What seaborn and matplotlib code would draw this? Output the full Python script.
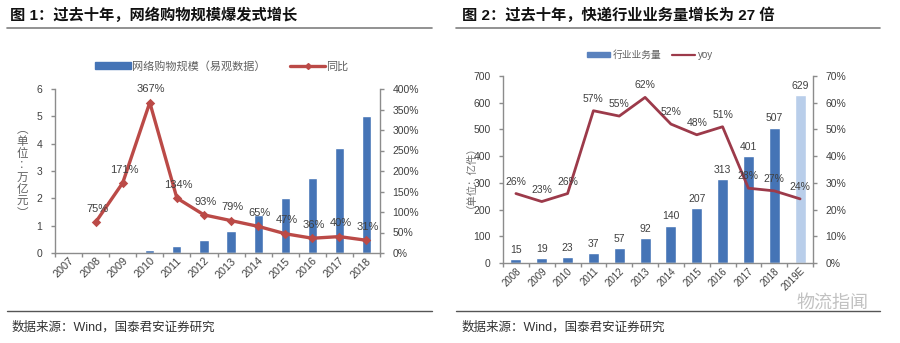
import numpy as np
import pandas as pd
import matplotlib
matplotlib.use("Agg")
import matplotlib.pyplot as plt
import seaborn as sns
from matplotlib.lines import Line2D
from matplotlib.patches import Patch

# ---------------- data ----------------
years1 = ["2007", "2008", "2009", "2010", "2011", "2012", "2013", "2014",
          "2015", "2016", "2017", "2018"]
scale1 = [0.02, 0.03, 0.03, 0.10, 0.26, 0.48, 0.82, 1.39, 2.02, 2.76, 3.85, 5.03]
growth1 = [np.nan, 75, 171, 367, 134, 93, 79, 65, 47, 36, 40, 31]

years2 = ["2008", "2009", "2010", "2011", "2012", "2013", "2014", "2015",
          "2016", "2017", "2018", "2019E"]
volume2 = [15, 19, 23, 37, 57, 92, 140, 207, 313, 401, 507, 629]
yoy2 = [26, 23, 26, 57, 55, 62, 52, 48, 51, 28, 27, 24]

title1 = "图 1：过去十年，网络购物规模爆发式增长"
title2 = "图 2：过去十年，快递行业业务量增长为 27 倍"
source = "数据来源：Wind，国泰君安证券研究"
legend1 = ["网络购物规模（易观数据）", "同比"]
legend2 = ["行业业务量", "yoy"]
ylabel1 = "︵单位︰万亿元︶"
ylabel2 = "（单位：亿件）"

# ---------------- style ----------------
sns.set_theme(style="white")
plt.rcParams["font.family"] = ["Liberation Sans", "Noto Sans CJK SC", "DejaVu Sans"]

BLUE = "#4574B6"
LIGHT = "#B9CEEA"
RED1 = "#BB4A47"
RED2 = "#9C3A4A"
GRAY = "#8C8C8C"
TXT = "#404040"

fig = plt.figure(figsize=(9.0, 3.43), dpi=100)

def fx(px):
    return px / 900.0

def fy(py):
    return 1 - py / 343.0

def style_axes(ax, ax2, n):
    for a in (ax, ax2):
        a.spines["top"].set_visible(False)
        for s in ("left", "right", "bottom"):
            a.spines[s].set_color(GRAY)
            a.spines[s].set_linewidth(1.0)
    ax.spines["right"].set_visible(False)
    ax2.spines["left"].set_visible(False)
    ax2.spines["bottom"].set_visible(False)
    ax.set_xlim(-0.5, n - 0.5)
    ax.set_xticks(np.arange(n))
    ax.set_xticks(np.arange(n + 1) - 0.5, minor=True)
    ax.tick_params(axis="x", which="major", length=0, pad=2)
    ax.tick_params(axis="x", which="minor", length=3, width=1, color=GRAY, direction="out", bottom=True)
    ax.tick_params(axis="y", length=3, width=1, color=GRAY, direction="out", left=True,
                   labelsize=7.5, labelcolor=TXT, pad=6)
    ax2.tick_params(axis="y", length=3, width=1, color=GRAY, direction="out", right=True,
                    labelsize=7.5, labelcolor=TXT, pad=6)
    ax.set_xlabel("")
    ax.set_ylabel("")
    ax2.set_ylabel("")
    ax2.set_xlabel("")

# ---------------- chart 1 ----------------
ax = fig.add_axes([fx(55), fy(253), fx(380 - 55), fy(89) - fy(253)])
sns.barplot(x=years1, y=scale1, color=BLUE, width=0.34, ax=ax, saturation=1)
ax.set_ylim(0, 6)
ax.set_yticks(range(0, 7))
ax2 = ax.twinx()
sns.pointplot(x=years1, y=growth1, order=years1, color=RED1, markers="D",
              markersize=3, linewidth=2.4, errorbar=None, ax=ax2)
ax2.set_ylim(0, 400)
ax2.set_yticks(range(0, 401, 50))
ax2.set_yticklabels([f"{v}%" for v in range(0, 401, 50)])
style_axes(ax, ax2, len(years1))
ax.set_xticklabels(years1, rotation=45, ha="right", rotation_mode="anchor",
                   fontsize=7.8, color=TXT)
for i, v in enumerate(growth1):
    if not np.isnan(v):
        ax2.annotate(f"{int(v)}%", (i, v), xytext=(1, 6), textcoords="offset points",
                     ha="center", va="bottom", fontsize=8, color=TXT)
fig.text(fx(22), fy(172), "\n".join(ylabel1), ha="center", va="center",
         fontsize=8.3, color="#606060", linespacing=1.0, rotation=0)
h1 = [Patch(facecolor=BLUE, edgecolor=BLUE),
      Line2D([0], [0], color=RED1, lw=2.4, marker="D", markersize=3)]
fig.legend(h1, legend1, loc="center", bbox_to_anchor=(fx(222), fy(66)), ncol=2,
           frameon=False, fontsize=8, handlelength=3.2, handleheight=0.55,
           columnspacing=2.2, handletextpad=0.1, labelcolor="#606060")

# ---------------- chart 2 ----------------
bx = fig.add_axes([fx(503), fy(263), fx(813 - 503), fy(76) - fy(263)])
colors2 = [BLUE] * (len(years2) - 1) + [LIGHT]
sns.barplot(x=years2, y=volume2, hue=years2, palette=colors2, legend=False,
            width=0.43, ax=bx, saturation=1)
bx.set_ylim(0, 700)
bx.set_yticks(range(0, 701, 100))
bx2 = bx.twinx()
sns.pointplot(x=years2, y=yoy2, order=years2, color=RED2, markers="",
              markersize=0, linewidth=2.0, errorbar=None, ax=bx2)
bx2.set_ylim(0, 70)
bx2.set_yticks(range(0, 71, 10))
bx2.set_yticklabels([f"{v}%" for v in range(0, 71, 10)])
style_axes(bx, bx2, len(years2))
bx.set_xticklabels(years2, rotation=45, ha="right", rotation_mode="anchor",
                   fontsize=7, color=TXT)
for i, v in enumerate(volume2):
    bx.annotate(f"{v}", (i, v), xytext=(0, 3), textcoords="offset points",
                ha="center", va="bottom", fontsize=7.5, color=TXT)
for i, v in enumerate(yoy2):
    bx2.annotate(f"{v}%", (i, v), xytext=(0, 5), textcoords="offset points",
                 ha="center", va="bottom", fontsize=7.5, color=TXT)
fig.text(fx(466), fy(172), ylabel2, rotation=90, ha="center", va="center",
         fontsize=7.5, color="#707070")
h2 = [Patch(facecolor="#5A82BE", edgecolor="#5A82BE"),
      Line2D([0], [0], color=RED2, lw=1.6)]
fig.legend(h2, legend2, loc="center", bbox_to_anchor=(fx(650), fy(55)), ncol=2,
           frameon=False, fontsize=7, handlelength=2.4, handleheight=0.5,
           columnspacing=1.0, handletextpad=0.3, labelcolor="#606060")

# ---------------- titles, rules, sources ----------------
fig.text(fx(10), fy(15), title1, ha="left", va="center", fontsize=11,
         fontweight="bold", color="#111111")
fig.text(fx(462), fy(15), title2, ha="left", va="center", fontsize=11,
         fontweight="bold", color="#111111")
for x0, x1 in ((7, 432), (456, 880)):
    fig.add_artist(Line2D([fx(x0), fx(x1)], [fy(28), fy(28)], color="#7F7F7F", lw=1.2))
    fig.add_artist(Line2D([fx(x0), fx(x1)], [fy(311), fy(311)], color="#555555", lw=1.0))
fig.text(fx(12), fy(327), source, ha="left", va="center", fontsize=9, color="#333333")
fig.text(fx(462), fy(327), source, ha="left", va="center", fontsize=9, color="#333333")
fig.text(fx(868), fy(303), "物流指闻", ha="right", va="center", fontsize=13,
         color="#BBBBBB", alpha=0.9)

fig.savefig("out.png", dpi=100)
